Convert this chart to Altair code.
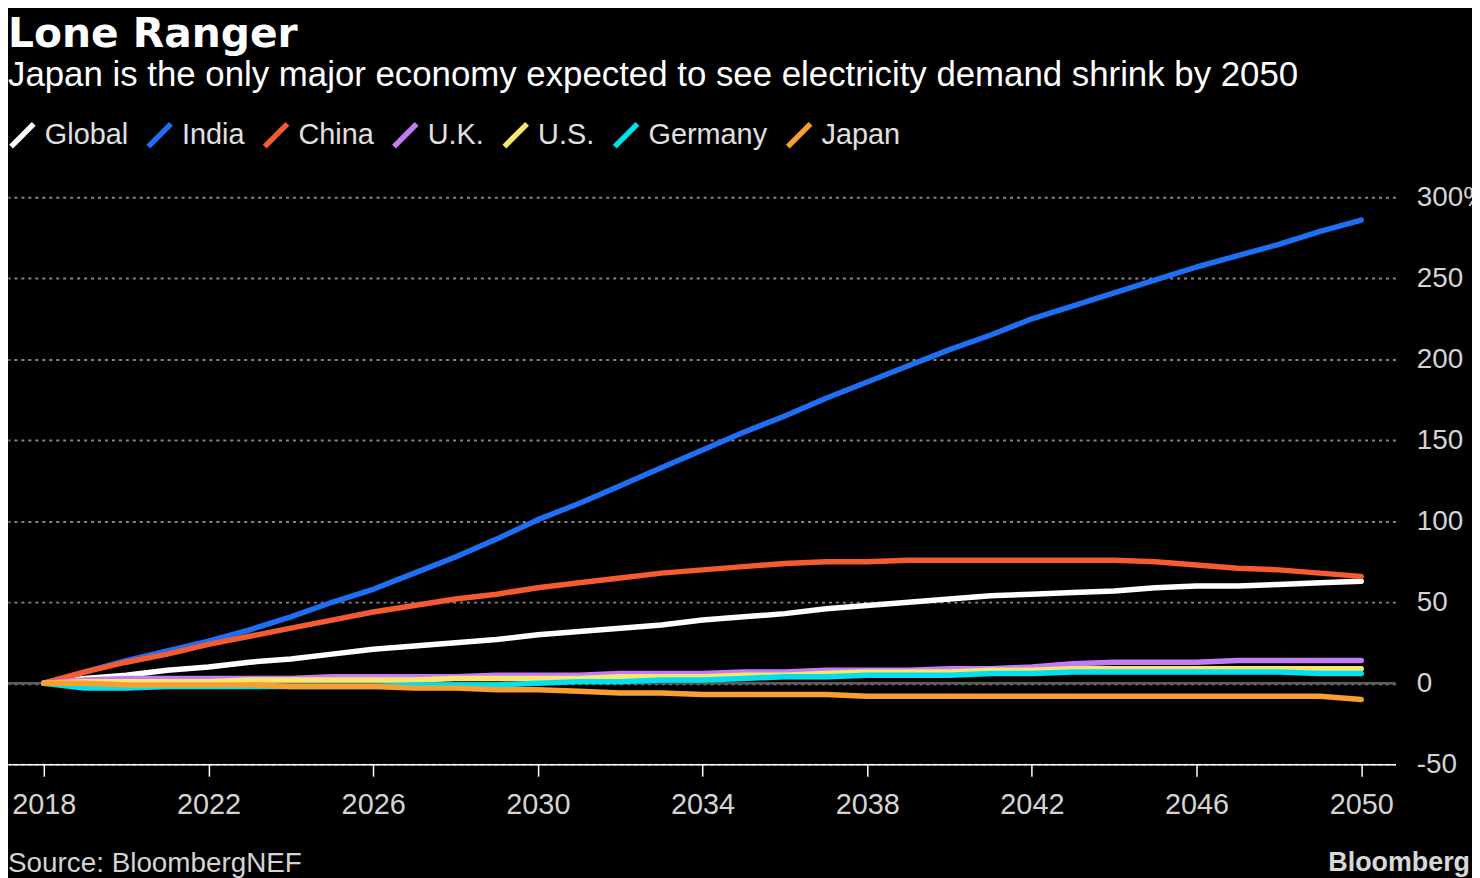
import altair as alt
import pandas as pd

years = list(range(2018, 2051))
series_names = ["Global", "India", "China", "U.K.", "U.S.", "Germany", "Japan"]
series_colors = ["#ffffff", "#1f6ff5", "#f55a30", "#c27cf8", "#fbe56e", "#00e1ef", "#f99e2f"]

global_vals = [0, 3, 5, 8, 10, 13, 15, 18, 21, 23, 25, 27, 30, 32, 34, 36, 39, 41, 43, 46, 48, 50, 52, 54, 55, 56, 57, 59, 60, 60, 61, 62, 63]
india_vals = [0, 7, 14, 20, 26, 33, 41, 50, 58, 68, 78, 89, 101, 111, 122, 133, 144, 155, 165, 176, 186, 196, 206, 215, 225, 233, 241, 249, 257, 264, 271, 279, 286]
china_vals = [0, 7, 13, 18, 24, 29, 34, 39, 44, 48, 52, 55, 59, 62, 65, 68, 70, 72, 74, 75, 75, 76, 76, 76, 76, 76, 76, 75, 73, 71, 70, 68, 66]
uk_vals = [0, 2, 3, 3, 3, 3, 3, 4, 4, 4, 4, 5, 5, 5, 6, 6, 6, 7, 7, 8, 8, 8, 9, 9, 10, 12, 13, 13, 13, 14, 14, 14, 14]
us_vals = [0, 1, 1, 1, 1, 2, 2, 2, 2, 2, 3, 3, 3, 3, 4, 4, 4, 5, 5, 6, 7, 7, 7, 8, 8, 9, 9, 9, 9, 9, 9, 9, 9]
germany_vals = [0, -3, -3, -2, -2, -2, -2, -2, -2, -1, -1, -1, 0, 1, 1, 2, 2, 3, 4, 4, 5, 5, 5, 6, 6, 7, 7, 7, 7, 7, 7, 6, 6]
japan_vals = [0, 0, -1, -1, -1, -1, -2, -2, -2, -3, -3, -4, -4, -5, -6, -6, -7, -7, -7, -7, -8, -8, -8, -8, -8, -8, -8, -8, -8, -8, -8, -8, -10]

x_ticks = [2018, 2022, 2026, 2030, 2034, 2038, 2042, 2046, 2050]
y_ticks = [-50, 0, 50, 100, 150, 200, 250, 300]

all_vals = [global_vals, india_vals, china_vals, uk_vals, us_vals, germany_vals, japan_vals]
rows = []
for i, (name, vals) in enumerate(zip(series_names, all_vals)):
    for y, v in zip(years, vals):
        rows.append({"year": y, "value": v, "series": name, "order": i})
df = pd.DataFrame(rows)

SANS = "Liberation Sans, Arial, sans-serif"
BOLD = "DejaVu Sans, sans-serif"
W, H = 1395, 570

lines = alt.Chart(df).mark_line(strokeWidth=5.5, strokeCap="round", strokeJoin="round").encode(
    x=alt.X("year:Q",
            scale=alt.Scale(domain=[2017.13, 2050.83], nice=False, zero=False),
            axis=alt.Axis(values=x_ticks, format="d", title=None, grid=False,
                          domainColor="#ffffff", domainWidth=1.5,
                          tickColor="#ffffff", tickWidth=1.5, tickSize=12,
                          labelColor="#d4d4d4", labelFontSize=29, labelFont=SANS,
                          labelPadding=15)),
    y=alt.Y("value:Q",
            scale=alt.Scale(domain=[-50, 300], nice=False),
            axis=alt.Axis(orient="right", values=y_ticks, title=None,
                          labelExpr="datum.value == 300 ? '300%' : '' + datum.value",
                          domain=False, ticks=False, labelPadding=21,
                          labelAlign="left", labelBaseline="middle",
                          labelColor="#d4d4d4", labelFontSize=28, labelFont=SANS,
                          grid=True, gridColor="#858585", gridDash=[3, 4], gridWidth=2)),
    color=alt.Color("series:N",
                    scale=alt.Scale(domain=series_names, range=series_colors),
                    legend=alt.Legend(title=None, orient="none", legendX=0, legendY=-77,
                                      direction="horizontal",
                                      symbolType="M-1,1L1,-1",
                                      symbolSize=520, symbolStrokeWidth=5.5,
                                      labelFontSize=29, labelFont=SANS, labelColor="#e0e0e0",
                                      labelOffset=8, columnPadding=9, symbolOffset=0)),
    order=alt.Order("order:Q"),
    detail="series:N",
)

zero_rule = alt.Chart(pd.DataFrame({"v": [0]})).mark_rule(color="#5c5c5c", strokeWidth=2.5).encode(
    y="v:Q"
)

source = alt.Chart(pd.DataFrame({"t": ["Source: BloombergNEF"]})).mark_text(
    align="left", baseline="alphabetic", fontSize=28, font=SANS, color="#d4d4d4"
).encode(x=alt.value(0), y=alt.value(678), text="t:N")

brand = alt.Chart(pd.DataFrame({"t": ["Bloomberg"]})).mark_text(
    align="right", baseline="alphabetic", fontSize=27, font=SANS, fontWeight="bold", color="#d8d8d8"
).encode(x=alt.value(1470), y=alt.value(677), text="t:N")

chart = alt.layer(zero_rule, lines, source, brand).properties(
    width=W, height=H,
    title=alt.TitleParams(
        text="Lone Ranger",
        subtitle="Japan is the only major economy expected to see electricity demand shrink by 2050",
        anchor="start", frame="group", orient="top",
        font=BOLD, fontSize=41, fontWeight="bold", color="#ffffff",
        subtitleFont=SANS, subtitleFontSize=35, subtitleColor="#ffffff",
        subtitlePadding=2, offset=27,
    ),
    autosize=alt.AutoSizeParams(type="none"),
    padding={"left": 0, "top": 188, "right": 77, "bottom": 112},
    background="#000000",
).configure_view(stroke=None)

chart.save("out.html", embed_options={"renderer": "svg", "actions": False})
